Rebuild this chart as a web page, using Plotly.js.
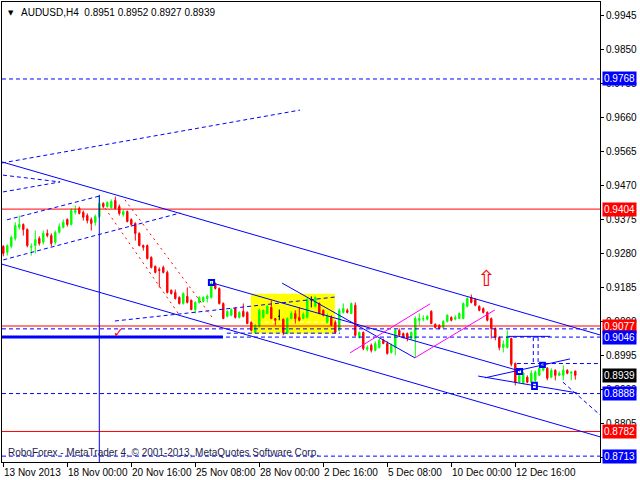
<!DOCTYPE html>
<html><head><meta charset="utf-8">
<script src="https://cdn.plot.ly/plotly-3.0.1.min.js"></script>
<style>body{margin:0;background:#fff}#c{width:640px;height:480px}</style>
</head><body><div id="c"></div>
<script>
// ---- data (AUDUSD H4, bar index 0 = 13 Nov 2013 08:00) ----
const open = [
.9300,.9283,.9300,.9322,.9353,.9361,.9347,.9297,.9302,.9322,
.9311,.9336,.9330,.9311,.9339,.9353,.9375,.9361,.9395,.9406,
.9395,.9386,.9375,.9367,.9383,.9420,.9411,.9408,.9428,.9411,
.9389,.9397,.9375,.9364,.9336,.9302,.9302,.9269,.9244,.9235,
.9241,.9227,.9177,.9171,.9157,.9140,.9160,.9149,.9123,.9143,
.9146,.9154,.9157,.9196,.9182,.9140,.9104,.9107,.9126,.9101,
.9118,.9115,.9087,.9059,.9076,.9101,.9112,.9129,.9098,.9104,
.9096,.9056,.9098,.9112,.9101,.9098,.9101,.9151,.9132,.9140,
.9121,.9087,.9101,.9087,.9065,.9115,.9121,.9112,.9135,.9045,
.9059,.9012,.9023,.9009,.9017,.9037,.9028,.9003,.9017,.9065,
.9056,.9056,.9042,.9042,.9093,.9096,.9096,.9118,.9082,.9079,
.9073,.9090,.9101,.9096,.9098,.9098,.9132,.9157,.9151,.9132,
.9126,.9115,.9098,.9070,.9045,.9017,.9017,.9042,.8972,.8920,
.8917,.8934,.8920,.8925,.8939,.8953,.8959,.8934,.8953,.8939,
.8939,.8953,.8945,.8951];
const high = [
.9303,.9305,.9330,.9367,.9386,.9364,.9350,.9308,.9344,.9328,
.9344,.9347,.9336,.9344,.9364,.9375,.9378,.9406,.9414,.9411,
.9400,.9392,.9381,.9389,.9442,.9423,.9425,.9431,.9439,.9417,
.9403,.9400,.9378,.9367,.9339,.9305,.9305,.9272,.9246,.9241,
.9246,.9232,.9179,.9179,.9160,.9171,.9185,.9151,.9146,.9160,
.9160,.9165,.9202,.9199,.9185,.9143,.9121,.9126,.9129,.9118,
.9140,.9118,.9090,.9082,.9126,.9123,.9135,.9149,.9098,.9123,
.9098,.9101,.9118,.9121,.9129,.9115,.9157,.9160,.9160,.9143,
.9123,.9112,.9107,.9093,.9126,.9140,.9126,.9143,.9143,.9062,
.9062,.9023,.9028,.9034,.9042,.9042,.9034,.9028,.9070,.9070,
.9059,.9059,.9062,.9104,.9112,.9107,.9107,.9121,.9084,.9082,
.9093,.9110,.9104,.9107,.9115,.9143,.9157,.9165,.9154,.9135,
.9129,.9118,.9101,.9073,.9048,.9037,.9065,.9045,.8975,.8945,
.8948,.8939,.8953,.8953,.8964,.8972,.8962,.8959,.8956,.8950,
.8967,.8956,.8950,.8952];
const low = [
.9272,.9274,.9294,.9316,.9347,.9330,.9297,.9274,.9280,.9302,
.9305,.9325,.9300,.9305,.9336,.9350,.9355,.9358,.9389,.9389,
.9372,.9364,.9344,.9358,.9378,.9406,.9408,.9406,.9403,.9386,
.9383,.9367,.9355,.9316,.9300,.9288,.9263,.9238,.9224,.9185,
.9224,.9168,.9165,.9151,.9137,.9137,.9140,.9121,.9112,.9140,
.9143,.9143,.9154,.9179,.9137,.9096,.9101,.9104,.9098,.9098,
.9101,.9082,.9062,.9056,.9073,.9098,.9110,.9096,.9079,.9093,
.9051,.9054,.9096,.9084,.9090,.9096,.9098,.9129,.9129,.9110,
.9104,.9084,.9076,.9056,.9062,.9112,.9112,.9110,.9048,.9042,
.9009,.9006,.9003,.9006,.9014,.9026,.8997,.9000,.8995,.9048,
.9042,.9034,.9040,.8989,.9079,.9090,.9093,.9082,.9070,.9068,
.9070,.9087,.9090,.9093,.9096,.9096,.9129,.9140,.9132,.9118,
.9112,.9090,.9042,.9037,.9009,.9003,.9014,.8964,.8911,.8917,
.8914,.8917,.8917,.8920,.8937,.8950,.8925,.8931,.8925,.8937,
.8925,.8942,.8925,.8927];
const close = [
.9280,.9302,.9325,.9358,.9361,.9347,.9302,.9300,.9319,.9308,
.9336,.9330,.9308,.9339,.9355,.9367,.9361,.9400,.9400,.9392,
.9381,.9372,.9364,.9383,.9420,.9411,.9423,.9425,.9406,.9392,
.9397,.9369,.9361,.9336,.9302,.9297,.9266,.9241,.9227,.9232,
.9227,.9171,.9168,.9154,.9140,.9168,.9143,.9123,.9143,.9157,
.9157,.9160,.9196,.9182,.9140,.9098,.9118,.9123,.9101,.9115,
.9104,.9084,.9065,.9079,.9121,.9121,.9132,.9098,.9093,.9104,
.9059,.9098,.9112,.9098,.9093,.9110,.9151,.9151,.9157,.9112,
.9107,.9107,.9079,.9059,.9121,.9126,.9115,.9140,.9051,.9059,
.9014,.9017,.9009,.9028,.9037,.9028,.9000,.9023,.9065,.9051,
.9045,.9042,.9059,.9098,.9098,.9098,.9104,.9084,.9073,.9070,
.9090,.9107,.9093,.9101,.9112,.9140,.9154,.9143,.9135,.9121,
.9115,.9093,.9070,.9045,.9017,.9026,.9048,.8970,.8920,.8939,
.8945,.8920,.8945,.8948,.8959,.8967,.8931,.8953,.8939,.8945,
.8953,.8945,.8948,.8939];

const tickBars   = [0, 16, 32, 48, 64, 80, 96, 112, 128];
const tickLabels = ["13 Nov 2013","18 Nov 00:00","20 Nov 16:00","25 Nov 08:00","28 Nov 00:00",
                    "2 Dec 16:00","5 Dec 08:00","10 Dec 00:00","12 Dec 16:00"];
const priceTicks = [0.9945,0.9850,0.9755,0.9660,0.9565,0.9470,0.9375,0.9280,0.9185,0.9090,0.8995,0.8900,0.8805,0.8710];

const levelPrices = [0.9768, 0.9404, 0.9077, 0.9046, 0.8888, 0.8782, 0.8713];
const levelKinds  = ["blue","red","red","blue","blue","red","blue"];
const lastPrice = 0.8939;
const titleText = "AUDUSD,H4  0.8951 0.8952 0.8927 0.8939";
const footerText = "RoboForex - MetaTrader 4, © 2001-2013, MetaQuotes Software Corp.";

// analysis objects in (bar index, price)
const blueSolid = [
  [-0.33,0.9536,149.2,0.9052],   // upper channel
  [-0.33,0.9250,149.2,0.8767],   // lower channel
  [52.4,0.9197,129.2,0.8951],    // middle line
  [69.7,0.9197,102.9,0.8988],
  [118.7,0.8937,143.4,0.8890],   // triangle
  [120.4,0.8932,141.7,0.8985],
  [126.2,0.9048,136.7,0.9048]
];
const blueDashed = [
  [-0.33,0.9533,74.2,0.9681],
  [-0.08,0.9499,14.2,0.9480],
  [-0.08,0.9452,14.2,0.9480],
  [0.93,0.9374,24.2,0.9441],
  [0,0.9262,44.2,0.9393],
  [27.9,0.9091,82.9,0.9158],
  [55.9,0.9057,84.2,0.9057],
  [-0.33,0.9069,149.2,0.9069],
  [128.4,0.8972,149.2,0.8972],
  [132.5,0.9046,132.5,0.8970],
  [133.7,0.9046,133.7,0.8970],
  [139.9,0.8920,149.2,0.8828]
];
const redDotted = [[25.4,0.9407,43.7,0.9113],[30.4,0.9430,52.7,0.9094]];
const magentaLines = [[86.7,0.9002,106.7,0.9139],[102.9,0.8988,122.9,0.9122]];
const waveBoxes = [[51.4,0.9206,52.7,0.9192],[128.4,0.8957,129.7,0.8943],[132.2,0.8918,133.4,0.8901],[134.2,0.8974,135.4,0.8962]];
const yellowZone = [61.9,0.9167,82.9,0.9057];
const whiteDash = [61.9,0.9088,82.9,0.9088];
const thickLevel = [-0.33,0.9046,54.9,0.9046];
const vLine = [24,0.9444];
const arrowMark = [120.6, 0.9211];
const checkMark = [28.8, 0.9060];

// ---- build ----
const bars = open.map((_, i) => i);
const isDoji = i => open[i] === close[i];
function pick(f){ const ix = bars.filter(f); return {x: ix, open: ix.map(i=>open[i]), high: ix.map(i=>high[i]), low: ix.map(i=>low[i]), close: ix.map(i=>close[i])}; }
const main = pick(i => !isDoji(i)), doj = pick(isDoji);
const BLUE='#0000ff', RED='#ff0000', GREEN='#00ff00';
const traces = [
  Object.assign({type:'candlestick', hoverinfo:'skip', showlegend:false,
    increasing:{line:{color:GREEN,width:1},fillcolor:GREEN},
    decreasing:{line:{color:RED,width:1},fillcolor:RED}}, main),
  Object.assign({type:'candlestick', hoverinfo:'skip', showlegend:false,
    increasing:{line:{color:'#000',width:1},fillcolor:'#000'},
    decreasing:{line:{color:'#000',width:1},fillcolor:'#000'}}, doj)
];
const shapes = [];
const L = (a, color, width, dash, layer) => shapes.push({type:'line', xref:'x', yref:'y', x0:a[0], y0:a[1], x1:a[2], y1:a[3], line:{color, width, dash: dash||'solid'}, layer: layer||'above'});
shapes.push({type:'rect', xref:'x', yref:'y', x0:yellowZone[0], y0:yellowZone[1], x1:yellowZone[2], y1:yellowZone[3], fillcolor:'#ffff00', line:{width:0}, layer:'below'});
L(whiteDash, '#ffffff', 1, '4px,3px', 'below');
levelPrices.forEach((p,k) => L([-0.33,p,149.2,p], levelKinds[k]==='red'?RED:BLUE, 1, levelKinds[k]==='red'?'solid':'4px,3px'));
L(thickLevel, BLUE, 3);
blueSolid.forEach(a => L(a, BLUE, 1));
blueDashed.forEach(a => L(a, BLUE, 1, '4px,3px'));
redDotted.forEach(a => L(a, RED, 1, '2px,4px'));
magentaLines.forEach(a => L(a, '#ff00ff', 1));
L([vLine[0], vLine[1], vLine[0], 0.86], BLUE, 1);
waveBoxes.forEach(b => shapes.push({type:'rect', xref:'x', yref:'y', x0:b[0], y0:b[1], x1:b[2], y1:b[3], line:{color:BLUE,width:2}, layer:'above'}));

const FONT = 'Liberation Sans, Arial, sans-serif';
const ann = [];
tickBars.forEach((b,k) => ann.push({xref:'x', yref:'paper', x:b, y:0, xanchor:'left', yanchor:'top', xshift:-1, yshift:-3, text:tickLabels[k], showarrow:false, font:{family:FONT,size:10,color:'#000'}}));
const boxColor = {blue:BLUE, red:RED};
levelPrices.forEach((p,k) => ann.push({xref:'paper', yref:'y', x:1, y:p, xanchor:'left', yanchor:'middle', xshift:2, text:p.toFixed(4), showarrow:false, bgcolor:boxColor[levelKinds[k]], borderpad:1, font:{family:FONT,size:10,color:'#fff'}}));
ann.push({xref:'paper', yref:'y', x:1, y:lastPrice, xanchor:'left', yanchor:'middle', xshift:2, text:lastPrice.toFixed(4), showarrow:false, bgcolor:'#000', borderpad:1, font:{family:FONT,size:10,color:'#fff'}});
ann.push({xref:'paper', yref:'paper', x:0, y:1, xanchor:'left', yanchor:'top', xshift:17, yshift:-3, text:titleText, showarrow:false, font:{family:FONT,size:10,color:'#000'}});
ann.push({xref:'paper', yref:'paper', x:0, y:1, xanchor:'left', yanchor:'top', xshift:4, yshift:-5, text:'▼', showarrow:false, font:{family:'DejaVu Sans',size:7,color:'#000'}});
ann.push({xref:'paper', yref:'paper', x:0, y:0, xanchor:'left', yanchor:'bottom', xshift:4, yshift:2, text:footerText, showarrow:false, font:{family:FONT,size:10,color:'#1e1e50'}});
ann.push({xref:'x', yref:'y', x:arrowMark[0], y:arrowMark[1], text:'⇧', showarrow:false, font:{family:'DejaVu Sans',size:22,color:RED}});
ann.push({xref:'x', yref:'y', x:checkMark[0], y:checkMark[1], text:'✓', showarrow:false, font:{family:'DejaVu Sans',size:13,color:RED}});

const layout = {
  width:640, height:480, margin:{l:2, r:40, t:2, b:18},
  paper_bgcolor:'#fff', plot_bgcolor:'#fff', showlegend:false, boxgap:0.5,
  xaxis:{type:'linear', range:[-0.325,149.175], tickvals:tickBars, showticklabels:false, ticks:'outside', ticklen:4, tickcolor:'#000',
         showgrid:false, zeroline:false, showline:true, mirror:true, linecolor:'#000', linewidth:1, rangeslider:{visible:false}, fixedrange:true},
  yaxis:{side:'right', range:[0.86966,0.99833], tickvals:priceTicks, ticktext:priceTicks.map(v=>v.toFixed(4)), ticks:'outside', ticklen:3, tickcolor:'#000',
         tickfont:{family:FONT,size:10,color:'#000'}, showgrid:false, zeroline:false, showline:true, mirror:true, linecolor:'#000', linewidth:1, fixedrange:true},
  shapes, annotations: ann
};
Plotly.newPlot('c', traces, layout, {staticPlot:true, displayModeBar:false});
</script></body></html>
